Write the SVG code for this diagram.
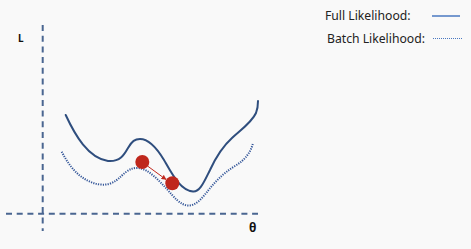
<svg xmlns="http://www.w3.org/2000/svg" width="471" height="249" viewBox="0 0 471 249">
<defs>
<style>
.axis{fill:none;stroke:#4a6691;stroke-width:2;stroke-dasharray:6 4.7}
.full{fill:none;stroke:#2f4e7e;stroke-width:2;stroke-linecap:round}
.batch{fill:none;stroke:#36589a;stroke-width:2;stroke-dasharray:1.2 1.2}
.lbl{font-family:"Noto Sans","Open Sans",sans-serif;font-size:12.2px;fill:#222}
.ax{font-family:"Noto Sans","DejaVu Sans",sans-serif;font-weight:bold;fill:#111}
.dot{fill:#bf271c}
</style>
<marker id="ah" viewBox="0 0 10 10" refX="9" refY="5" markerWidth="5" markerHeight="5" orient="auto">
<path d="M0,0 L10,5 L0,10 z" fill="#c0281e"/>
</marker>
</defs>
<rect width="471" height="249" fill="#f9f9f9"/>
<g id="connectors">
<line class="axis" x1="42.7" y1="25" x2="42.7" y2="231"/>
<line class="axis" x1="6" y1="213.7" x2="258" y2="213.7"/>
<path class="full" d="M65.7,115 C75,135 88,158 108,161 C120,162 124,155 128,148 C132,141 135,139 140,139 C150,139 158,150 164,160 C172,174 180,190 193,191.5 C200,192 204,182 210,170 C216,157 222,147 232,138 C242,129 252,122 256,113 C258,108 258,104 258,101"/>
<path class="batch" d="M61.7,151.7 C70,168 82,182 100,184.5 C115,186 120,176 126,172 C130,169 133,168 137,168 C148,168 158,180 166,188 C174,197 180,205 188,205.5 C196,206 202,198 207,192 C214,183 222,174 235,166 C245,160 251,152 253,143"/>
<line x1="147.5" y1="166" x2="166" y2="179.5" stroke="#c0281e" stroke-width="1" marker-end="url(#ah)"/>
</g>
<g id="dot1"><circle class="dot" cx="142.3" cy="162" r="7"/></g>
<g id="dot2"><circle class="dot" cx="172.3" cy="183.3" r="7"/></g>
<g id="axis-labels">
<text class="ax" x="18" y="42" font-size="10">L</text>
<text class="ax" x="249" y="232" font-size="12">θ</text>
</g>
<g id="legend">
<text class="lbl" x="325" y="20">Full Likelihood:</text>
<line x1="432" y1="16" x2="460" y2="16" stroke="#4a78c0" stroke-width="1.5"/>
<text class="lbl" x="327" y="43">Batch Likelihood:</text>
<line x1="433" y1="38.5" x2="462" y2="38.5" stroke="#4a78c0" stroke-width="1.2" stroke-dasharray="1 1"/>
</g>
</svg>
